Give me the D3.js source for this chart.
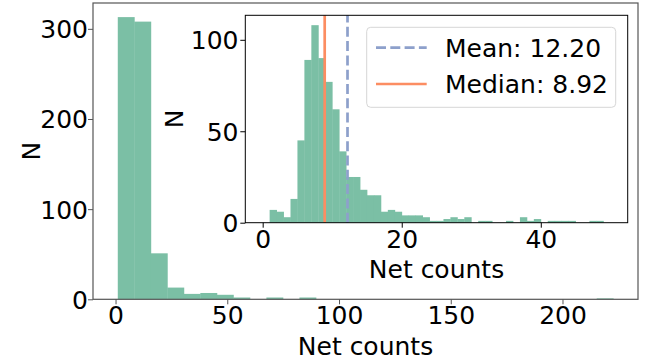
<!DOCTYPE html>
<html>
<head>
<meta charset="utf-8">
<script src="https://cdn.jsdelivr.net/npm/d3@7"></script>
<style>
  html, body { margin: 0; padding: 0; background: #fff; }
  svg { display: block; font-family: "DejaVu Sans", sans-serif; }
</style>
</head>
<body>
<svg id="chart" width="656" height="361"></svg>
<script>
// Histogram of net counts: full range (30 bins) plus a zoomed inset (1-count bins, 0-50)
const mainRange = [1.0, 222.7];
const mainCounts = [313, 308, 51, 13, 6, 7, 5, 2, 0, 2, 0, 2, 0, 0, 0,
                    0, 0, 0, 0, 0, 0, 0, 0, 0, 0, 0, 0, 0, 0, 1];
const insetRange = [0, 50];
const insetCounts = [0, 7, 6, 3, 13, 45, 89, 108, 90, 77,
                     62, 39, 25, 25, 18, 15, 15, 6, 7, 6,
                     4, 4, 4, 3, 1, 1, 2, 3, 2, 3,
                     0, 1, 1, 0, 0, 1, 0, 3, 1, 2,
                     0, 1, 1, 1, 1, 0, 0, 1, 1, 0];
const meanValue = 12.20;
const medianValue = 8.92;
const mainXTicks = [0, 50, 100, 150, 200];
const mainYTicks = [0, 100, 200, 300];
const insetXTicks = [0, 20, 40];
const insetYTicks = [0, 50, 100];

const barColor = "#7bbfa5";
const meanColor = "#8da0cb";
const medianColor = "#fc8d62";
const FONT = 25;

const svg = d3.select("#chart");

function binsFrom(range, counts) {
  const w = (range[1] - range[0]) / counts.length;
  return counts.map((c, i) => ({ x0: range[0] + i * w, x1: range[0] + (i + 1) * w, n: c }));
}

function padded(range, frac) {
  const m = (range[1] - range[0]) * frac;
  return [range[0] - m, range[1] + m];
}

function drawPanel(g, cfg) {
  const { x, y, bins, xTicks, yTicks, spine, spineW, xLabelY, yLabelX, tickLabelDY, yTickEnd } = cfg;
  const [x0, x1] = x.range();
  const [yb, yt] = y.range();

  g.append("rect").attr("x", x0).attr("y", yt).attr("width", x1 - x0).attr("height", yb - yt)
    .attr("fill", "#fff");

  g.append("g").selectAll("rect").data(bins).join("rect")
    .attr("x", d => x(d.x0))
    .attr("width", d => x(d.x1) - x(d.x0) + 0.4)
    .attr("y", d => y(d.n))
    .attr("height", d => y(0) - y(d.n))
    .attr("fill", barColor);

  if (cfg.extra) cfg.extra(g);

  // frame
  g.append("rect").attr("x", x0).attr("y", yt).attr("width", x1 - x0).attr("height", yb - yt)
    .attr("fill", "none").attr("stroke", spine).attr("stroke-width", spineW);

  // x axis
  const xa = g.append("g").attr("transform", `translate(0,${yb})`)
    .call(d3.axisBottom(x).tickValues(xTicks).tickSize(5).tickPadding(0).tickFormat(d3.format("d")));
  xa.select(".domain").remove();
  xa.selectAll(".tick line").attr("stroke", spine);
  xa.selectAll(".tick text").attr("font-size", FONT).attr("fill", "#000")
    .attr("font-family", "DejaVu Sans").attr("dy", null).attr("y", tickLabelDY);

  // y axis
  const ya = g.append("g").attr("transform", `translate(${x0},0)`)
    .call(d3.axisLeft(y).tickValues(yTicks).tickSize(5).tickPadding(0).tickFormat(d3.format("d")));
  ya.select(".domain").remove();
  ya.selectAll(".tick line").attr("stroke", spine);
  ya.selectAll(".tick text").attr("font-size", FONT).attr("fill", "#000")
    .attr("font-family", "DejaVu Sans").attr("x", yTickEnd - x0).attr("dy", "0.36em");

  g.append("text").attr("x", (x0 + x1) / 2).attr("y", xLabelY)
    .attr("text-anchor", "middle").attr("font-size", FONT).text("Net counts");
  g.append("text")
    .attr("transform", `translate(${yLabelX},${(yb + yt) / 2}) rotate(-90)`)
    .attr("text-anchor", "middle").attr("font-size", FONT).text("N");
}

// main panel
const mainBins = binsFrom(mainRange, mainCounts);
const xMain = d3.scaleLinear().domain(padded(mainRange, 0.05)).range([93, 638]);
const yMain = d3.scaleLinear().domain([0, d3.max(mainCounts) * 1.05]).range([299.3, 3]);
drawPanel(svg.append("g"), {
  x: xMain, y: yMain, bins: mainBins, xTicks: mainXTicks, yTicks: mainYTicks,
  spine: "#555", spineW: 1.2, xLabelY: 355, yLabelX: 40, tickLabelDY: 25, yTickEnd: 88
});

// inset panel
const insetBins = binsFrom(insetRange, insetCounts);
const xIn = d3.scaleLinear().domain(padded(insetRange, 0.05)).range([245.3, 627.7]);
const yIn = d3.scaleLinear().domain([0, d3.max(insetCounts) * 1.05]).range([222.7, 15.3]);
drawPanel(svg.append("g"), {
  x: xIn, y: yIn, bins: insetBins, xTicks: insetXTicks, yTicks: insetYTicks,
  spine: "#000", spineW: 1, xLabelY: 277.5, yLabelX: 183.3, tickLabelDY: 25.5, yTickEnd: 238.5,
  extra: g => {
    g.append("line").attr("x1", xIn(meanValue)).attr("x2", xIn(meanValue))
      .attr("y1", yIn.range()[0]).attr("y2", yIn.range()[1])
      .attr("stroke", meanColor).attr("stroke-width", 2.7).attr("stroke-dasharray", "10,4.3");
    g.append("line").attr("x1", xIn(medianValue)).attr("x2", xIn(medianValue))
      .attr("y1", yIn.range()[0]).attr("y2", yIn.range()[1])
      .attr("stroke", medianColor).attr("stroke-width", 2.7);
  }
});

// legend
const legendItems = [
  { label: `Mean: ${meanValue.toFixed(2)}`, color: meanColor, dash: "10,4.3", y: 47.7 },
  { label: `Median: ${medianValue.toFixed(2)}`, color: medianColor, dash: null, y: 84 }
];
const lg = svg.append("g");
lg.append("rect").attr("x", 366.7).attr("y", 27.3).attr("width", 249).attr("height", 80)
  .attr("rx", 4).attr("fill", "#fff").attr("fill-opacity", 0.8)
  .attr("stroke", "#d6d6d6").attr("stroke-width", 1);
legendItems.forEach(it => {
  lg.append("line").attr("x1", 376).attr("x2", 426.7).attr("y1", it.y).attr("y2", it.y)
    .attr("stroke", it.color).attr("stroke-width", 2.7)
    .attr("stroke-dasharray", it.dash);
  lg.append("text").attr("x", 445).attr("y", it.y + 9.1).attr("font-size", FONT)
    .text(it.label);
});
</script>
</body>
</html>
